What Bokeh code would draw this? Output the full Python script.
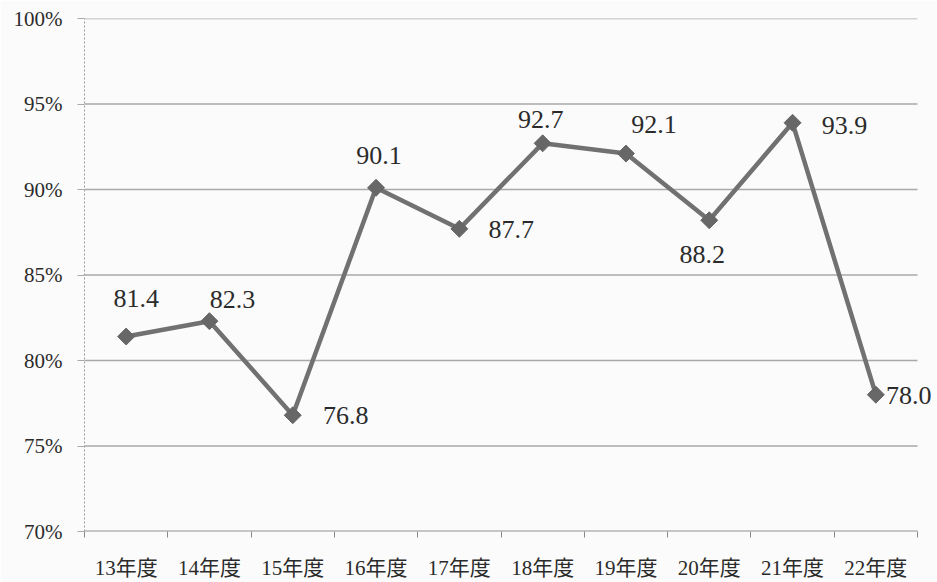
import math

from bokeh.core.properties import value
from bokeh.embed import file_html
from bokeh.models import (ColumnDataSource, CustomJSTickFormatter, FixedTicker,
                          LabelSet, Range1d)
from bokeh.plotting import figure
from bokeh.resources import INLINE

# Fiscal years and rates (%)
years = ["13年度", "14年度", "15年度", "16年度", "17年度",
         "18年度", "19年度", "20年度", "21年度", "22年度"]
rates = [81.4, 82.3, 76.8, 90.1, 87.7, 92.7, 92.1, 88.2, 93.9, 78.0]

y_ticks = [70, 75, 80, 85, 90, 95, 100]
y_tick_labels = ["70%", "75%", "80%", "85%", "90%", "95%", "100%"]

# Screen-pixel nudges that keep each value label clear of the line
label_dx = [10, 23, 53, 3, 52, -2, 28, -7, 52, 33]
label_dy = [38, 22, 0, 32, -1, 24, 29, -34, -3, -1]

n = len(years)
xs = [i + 0.5 for i in range(n)]
src = ColumnDataSource(dict(
    x=xs,
    y=rates,
    label=[f"{v:.1f}" for v in rates],
    dx=label_dx,
    dy=label_dy,
))

BG = "#fbfbfb"
GRID = "#a9a9a9"
INK = "#2b2b2b"
LINE = "#717171"
SERIF_JP = "'Liberation Serif', 'Noto Sans CJK JP', serif"

# The frame runs a little past the last slot so the final value label has room;
# grid lines and the baseline are drawn only across the ten slots.
p = figure(
    width=937, height=582,
    x_range=Range1d(0, n + 0.24), y_range=Range1d(70, 100),
    output_backend="svg", toolbar_location=None,
    min_border_left=84, min_border_right=0,
    min_border_top=18, min_border_bottom=49,
    background_fill_color=BG, border_fill_color=BG,
    outline_line_color=None,
)

# Bottom axis: names centred in each slot, tick marks on slot boundaries
xa = p.xaxis[0]
xa.ticker = FixedTicker(ticks=xs, minor_ticks=list(range(n + 1)))
xa.formatter = CustomJSTickFormatter(args=dict(names=years),
                                     code="return names[Math.floor(tick)];")
xa.major_tick_line_color = None
xa.minor_tick_line_color = "#8a8a8a"
xa.minor_tick_out = 6
xa.minor_tick_in = 0
xa.axis_line_color = None
xa.major_label_text_font = SERIF_JP
xa.major_label_text_font_size = "21px"
xa.major_label_text_color = INK
xa.major_label_standoff = 18

# Left axis: percentages, dotted spine
ya = p.yaxis[0]
ya.ticker = FixedTicker(ticks=y_ticks)
ya.major_label_overrides = dict(zip(y_ticks, y_tick_labels))
ya.minor_tick_line_color = None
ya.major_tick_line_color = GRID
ya.major_tick_out = 7
ya.major_tick_in = 0
ya.axis_line_color = "#9a9a9a"
ya.axis_line_dash = "2 2"
ya.major_label_text_font = "Liberation Serif"
ya.major_label_text_font_size = "21px"
ya.major_label_text_color = INK
ya.major_label_standoff = 15

p.xgrid.grid_line_color = None
p.ygrid.grid_line_color = None

# Horizontal grid at each percentage tick, across the slots only
p.segment(x0=0, x1=n, y0=y_ticks[1:], y1=y_ticks[1:],
          line_color=GRID, line_width=1.3)
# Baseline of the category axis
p.segment(x0=0, x1=n, y0=y_ticks[0], y1=y_ticks[0],
          line_color="#8f8f8f", line_width=1.8)

p.line("x", "y", source=src, line_color=LINE, line_width=4.5)
p.scatter("x", "y", source=src, marker="square", size=12, angle=math.pi / 4,
          fill_color="#676767", line_color="#676767")

labels = LabelSet(x="x", y="y", text="label", source=src,
                  x_offset="dx", y_offset="dy",
                  text_align="center", text_baseline="middle",
                  text_font=value("Liberation Serif"), text_font_size="26px",
                  text_color=INK)
p.add_layout(labels)

open("out.html", "w").write(file_html(p, INLINE))
